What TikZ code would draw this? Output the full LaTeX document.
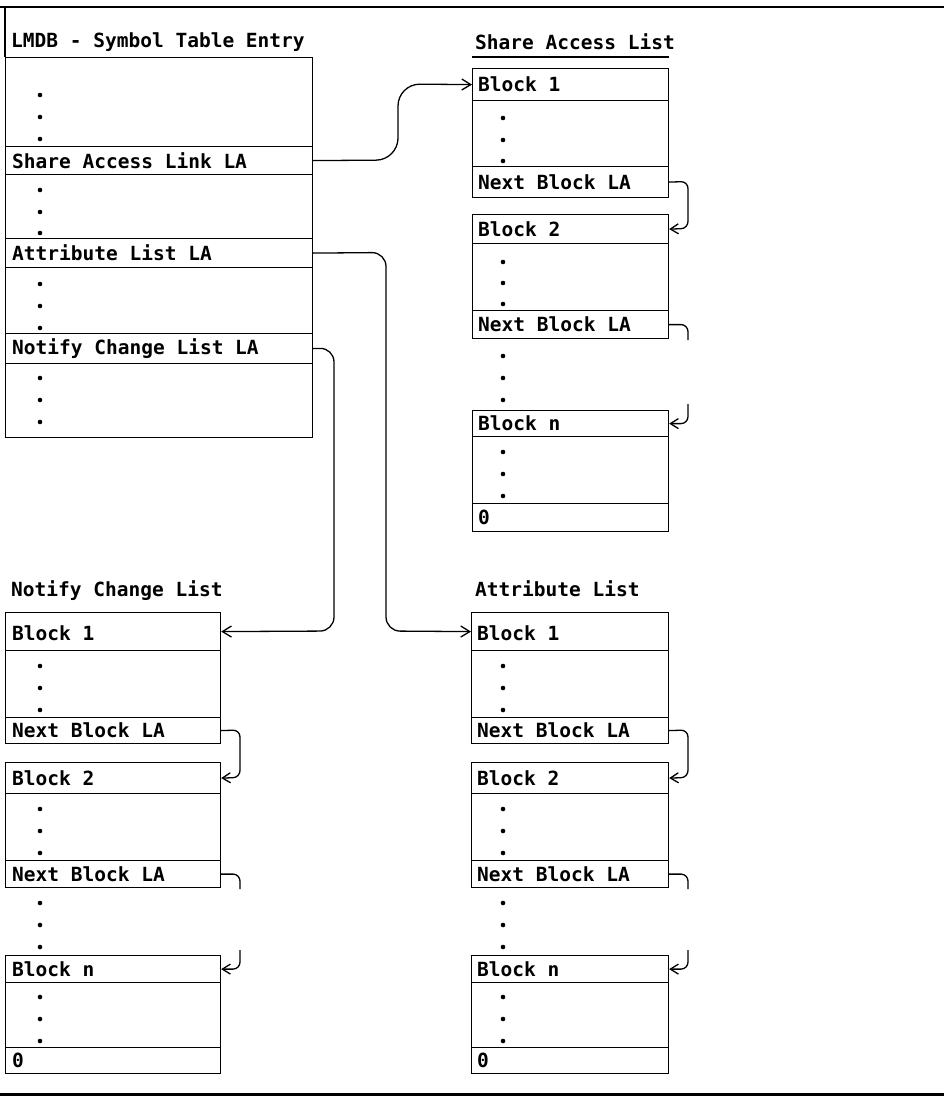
\documentclass[tikz,border=0pt]{standalone}
\usepackage{fontspec}
\newfontfamily\mono{DejaVu Sans Mono Bold}
\usetikzlibrary{arrows.meta}
\begin{document}
\begin{tikzpicture}[x=1pt,y=-1pt,
  cell/.style={draw, line width=1.2pt, inner sep=0pt, anchor=north west},
  lbl/.style={font=\mono\fontsize{19.5}{20}\selectfont, anchor=west, inner sep=0pt},
  dotmark/.style={circle, fill, inner sep=0pt, minimum size=4.6pt},
  link/.style={draw, line width=1.3pt, rounded corners=14pt, -{Straight Barb[length=9pt,width=11pt]}},
  hook/.style={draw, line width=1.3pt, rounded corners=7pt, -{Straight Barb[length=8pt,width=10pt]}},
  stub/.style={draw, line width=1.3pt, rounded corners=7pt},
  pagerule/.style={draw, line width=2.2pt}]
\useasboundingbox (0,0) rectangle (944,1097);
\fill[white] (0,0) rectangle (944,1097);
\draw[pagerule] (0,7) -- (944,7);
\draw[pagerule, line width=3pt] (0,1094) -- (944,1094);

% ---------------- Symbol table entry ----------------
\node[lbl] (etitle) at (11,42) {LMDB - Symbol Table Entry};
\node[cell, minimum width=307pt, minimum height=380pt] (entry) at (5,57) {};
\draw[line width=1.2pt] (5,8) -- (entry.north west);
\node[cell, minimum width=307pt, minimum height=28pt] (sal) at (5,146) {};
\node[lbl] (salt) at ([xshift=7pt]sal.west) {Share Access Link LA};
\node[cell, minimum width=307pt, minimum height=29pt] (al) at (5,238) {};
\node[lbl] (alt) at ([xshift=7pt]al.west) {Attribute List LA};
\node[cell, minimum width=307pt, minimum height=30pt] (ncl) at (5,333) {};
\node[lbl] (nclt) at ([xshift=7pt]ncl.west) {Notify Change List LA};
\foreach \y [count=\i] in {95,117,139,190,212,233,284,306,328,378,400,422}
  \node[dotmark] (ed\i) at (40,\y) {};

% ---------------- Share Access List ----------------
\node[lbl] (stitle) at (475,42) {Share Access List};
\node[cell, minimum width=196pt, minimum height=129pt] (sb1) at (472,68) {};
\draw[line width=1.2pt] ([yshift=11pt]sb1.north west) -- ([yshift=11pt]sb1.north east);
\node[cell, minimum width=196pt, minimum height=32pt] (sb1h) at (472,68) {};
\node[lbl] (sb1ht) at ([xshift=6pt]sb1h.west) {Block 1};
\node[cell, minimum width=196pt, minimum height=31pt] (sb1f) at (472,166) {};
\node[lbl] (sb1ft) at ([xshift=6pt]sb1f.west) {Next Block LA};
\node[cell, minimum width=196pt, minimum height=124pt] (sb2) at (472,214) {};
\node[cell, minimum width=196pt, minimum height=29pt] (sb2h) at (472,214) {};
\node[lbl] (sb2ht) at ([xshift=6pt]sb2h.west) {Block 2};
\node[cell, minimum width=196pt, minimum height=28pt] (sb2f) at (472,310) {};
\node[lbl] (sb2ft) at ([xshift=6pt]sb2f.west) {Next Block LA};
\node[cell, minimum width=196pt, minimum height=121pt] (sbn) at (472,410) {};
\node[cell, minimum width=196pt, minimum height=26pt] (sbnh) at (472,410) {};
\node[lbl] (sbnht) at ([xshift=6pt]sbnh.west) {Block n};
\node[cell, minimum width=196pt, minimum height=28pt] (sbnf) at (472,503) {};
\node[lbl] (sbnft) at ([xshift=6pt]sbnf.west) {0};
\foreach \y [count=\i] in {118,140,161,262,283,304,356,378,400,452,474,496}
  \node[dotmark] (sd\i) at (503,\y) {};

% ---------------- Notify Change List ----------------
\node[lbl] (ntitle) at (11,591) {Notify Change List};
\node[cell, minimum width=215pt, minimum height=131pt] (nb1) at (5,612) {};
\node[cell, minimum width=215pt, minimum height=38pt] (nb1h) at (5,612) {};
\node[lbl] (nb1ht) at ([xshift=7pt,yshift=-2pt]nb1h.west) {Block 1};
\node[cell, minimum width=215pt, minimum height=26pt] (nb1f) at (5,717) {};
\node[lbl] (nb1ft) at ([xshift=7pt]nb1f.west) {Next Block LA};
\node[cell, minimum width=215pt, minimum height=125pt] (nb2) at (5,762) {};
\node[cell, minimum width=215pt, minimum height=31pt] (nb2h) at (5,762) {};
\node[lbl] (nb2ht) at ([xshift=7pt]nb2h.west) {Block 2};
\node[cell, minimum width=215pt, minimum height=27pt] (nb2f) at (5,860) {};
\node[lbl] (nb2ft) at ([xshift=7pt]nb2f.west) {Next Block LA};
\node[cell, minimum width=215pt, minimum height=118pt] (nbn) at (5,955) {};
\node[cell, minimum width=215pt, minimum height=27pt] (nbnh) at (5,955) {};
\node[lbl] (nbnht) at ([xshift=7pt]nbnh.west) {Block n};
\node[cell, minimum width=215pt, minimum height=26pt] (nbnf) at (5,1047) {};
\node[lbl] (nbnft) at ([xshift=7pt]nbnf.west) {0};
\foreach \y [count=\i] in {666,688,710,809,831,853,903,925,947,997,1019,1041}
  \node[dotmark] (nd\i) at (40,\y) {};

% ---------------- Attribute List ----------------
\node[lbl] (atitle) at (475,589) {Attribute List};
\node[cell, minimum width=197pt, minimum height=131pt] (ab1) at (471,612) {};
\node[cell, minimum width=197pt, minimum height=38pt] (ab1h) at (471,612) {};
\node[lbl] (ab1ht) at ([xshift=6pt,yshift=-2pt]ab1h.west) {Block 1};
\node[cell, minimum width=197pt, minimum height=26pt] (ab1f) at (471,717) {};
\node[lbl] (ab1ft) at ([xshift=6pt]ab1f.west) {Next Block LA};
\node[cell, minimum width=197pt, minimum height=125pt] (ab2) at (471,762) {};
\node[cell, minimum width=197pt, minimum height=31pt] (ab2h) at (471,762) {};
\node[lbl] (ab2ht) at ([xshift=6pt]ab2h.west) {Block 2};
\node[cell, minimum width=197pt, minimum height=27pt] (ab2f) at (471,860) {};
\node[lbl] (ab2ft) at ([xshift=6pt]ab2f.west) {Next Block LA};
\node[cell, minimum width=197pt, minimum height=118pt] (abn) at (471,955) {};
\node[cell, minimum width=197pt, minimum height=27pt] (abnh) at (471,955) {};
\node[lbl] (abnht) at ([xshift=6pt]abnh.west) {Block n};
\node[cell, minimum width=197pt, minimum height=26pt] (abnf) at (471,1047) {};
\node[lbl] (abnft) at ([xshift=6pt]abnf.west) {0};
\foreach \y [count=\i] in {666,688,710,809,831,853,903,925,947,997,1019,1041}
  \node[dotmark] (ad\i) at (503,\y) {};

% ---------------- links from the entry ----------------
\draw[link, rounded corners=22pt] (sal.east) -- (398,160) -- (398,84) -- (sb1h.west);
\draw[link] (al.east) -- (386,252.5) -- (386,631) -- (ab1h.west);
\draw[link] (ncl.east) -- (334,348) -- (334,631) -- (nb1h.east);

% ---------------- next block links ----------------
\draw[hook] (sb1f.east) -- (688,181.5) -- (688,228.5) -- (sb2h.east);
\draw[hook] (nb1f.east) -- (240,730) -- (240,777.5) -- (nb2h.east);
\draw[hook] (ab1f.east) -- (688,730) -- (688,777.5) -- (ab2h.east);

% stubs towards block n
\coordinate (sout) at (688,340);
\coordinate (sin) at (688,404);
\draw[stub] (sb2f.east) -| (sout);
\draw[hook] (sin) |- (sbnh.east);
\coordinate (nout) at (240,889);
\coordinate (nin) at (240,950);
\draw[stub] (nb2f.east) -| (nout);
\draw[hook] (nin) |- (nbnh.east);
\coordinate (aout) at (688,889);
\coordinate (ain) at (688,950);
\draw[stub] (ab2f.east) -| (aout);
\draw[hook] (ain) |- (abnh.east);
\end{tikzpicture}
\end{document}
